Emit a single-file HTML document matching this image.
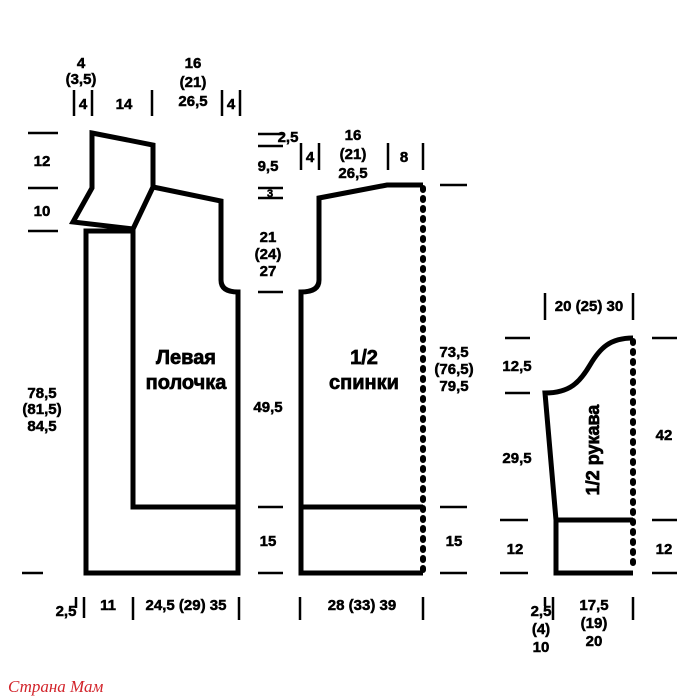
<!DOCTYPE html>
<html><head><meta charset="utf-8"><style>
html,body{margin:0;padding:0;background:#fff;}
svg{display:block;}
text{font-family:"Liberation Sans Narrow","Liberation Sans",sans-serif;font-weight:bold;font-size:15px;fill:#000;stroke:#000;stroke-width:0.5;text-anchor:middle;}
text.big{font-size:20px;stroke-width:0.7;}
</style></head><body>
<svg width="700" height="700" viewBox="0 0 700 700" xmlns="http://www.w3.org/2000/svg">
<g fill="none" stroke="#000" stroke-width="5" stroke-linejoin="miter">
<path d="M92,133 L153,145 L153,187 L133,229 L73,222 L92,188 Z"/>
<path d="M153,187 L221,201 L221,280 Q221,292 238,292 L238,573 L86,573 L86,231 L133,231 L133,507 L238,507"/>
<path d="M423,185 L387,185 L319,198 L319,280 Q319,292 301,292 L301,573 L423,573"/>
<path d="M301,507 L423,507"/>
<path d="M633,338 C610,338 600,348 590,365 C580,382 570,393 545,393 L556,520 L556,573 L633,573"/>
<path d="M556,520 L633,520"/>
</g>
<g stroke="#000" stroke-width="6" stroke-dasharray="2,8" stroke-linecap="round" fill="none">
<line x1="423" y1="188" x2="423" y2="571"/>
<line x1="633" y1="341" x2="633" y2="571"/>
</g>
<g stroke="#000" stroke-width="2.5">
<line x1="28" y1="133" x2="58" y2="133"/><line x1="28" y1="188" x2="58" y2="188"/><line x1="28" y1="231" x2="58" y2="231"/><line x1="22" y1="573" x2="43" y2="573"/>
<line x1="258" y1="134" x2="283" y2="134"/><line x1="258" y1="146" x2="283" y2="146"/><line x1="258" y1="188" x2="283" y2="188"/><line x1="258" y1="198" x2="283" y2="198"/><line x1="258" y1="292" x2="283" y2="292"/><line x1="258" y1="507" x2="283" y2="507"/><line x1="258" y1="573" x2="283" y2="573"/>
<line x1="440" y1="185" x2="467" y2="185"/><line x1="440" y1="507" x2="467" y2="507"/><line x1="440" y1="573" x2="467" y2="573"/>
<line x1="505" y1="338" x2="530" y2="338"/><line x1="505" y1="393" x2="530" y2="393"/><line x1="500" y1="520" x2="528" y2="520"/><line x1="500" y1="573" x2="528" y2="573"/>
<line x1="652" y1="338" x2="677" y2="338"/><line x1="652" y1="520" x2="677" y2="520"/><line x1="652" y1="573" x2="677" y2="573"/>
<line x1="74" y1="90" x2="74" y2="116"/><line x1="92" y1="90" x2="92" y2="116"/><line x1="152" y1="90" x2="152" y2="116"/><line x1="222" y1="90" x2="222" y2="116"/><line x1="240" y1="90" x2="240" y2="116"/>
<line x1="301" y1="143" x2="301" y2="170"/><line x1="319" y1="143" x2="319" y2="170"/><line x1="388" y1="143" x2="388" y2="170"/><line x1="423" y1="143" x2="423" y2="170"/>
<line x1="545" y1="293" x2="545" y2="320"/><line x1="633" y1="293" x2="633" y2="320"/>
<line x1="76" y1="597" x2="76" y2="608"/><line x1="84" y1="597" x2="84" y2="618"/><line x1="133" y1="597" x2="133" y2="620"/><line x1="239" y1="597" x2="239" y2="620"/>
<line x1="300" y1="597" x2="300" y2="620"/><line x1="423" y1="597" x2="423" y2="620"/>
<line x1="545" y1="597" x2="545" y2="606"/><line x1="553" y1="597" x2="553" y2="620"/><line x1="633" y1="597" x2="633" y2="620"/>
</g>
<text x="81" y="68">4</text><text x="81" y="84">(3,5)</text><text x="83" y="109">4</text>
<text x="124" y="109">14</text>
<text x="193" y="68">16</text><text x="193" y="87">(21)</text><text x="193" y="106">26,5</text>
<text x="231" y="109">4</text>
<text x="42" y="166">12</text><text x="42" y="216">10</text>
<text x="288" y="142">2,5</text><text x="268" y="171">9,5</text><text x="270" y="197" style="font-size:11px">3</text>
<text x="310" y="162">4</text>
<text x="353" y="140">16</text><text x="353" y="159">(21)</text><text x="353" y="178">26,5</text>
<text x="404" y="162">8</text>
<text x="268" y="242">21</text><text x="268" y="259">(24)</text><text x="268" y="276">27</text>
<text class="big" x="186" y="364">Левая</text><text class="big" x="186" y="389">полочка</text>
<text class="big" x="364" y="364">1/2</text><text class="big" x="364" y="389">спинки</text>
<text x="268" y="412">49,5</text>
<text x="454" y="357">73,5</text><text x="454" y="374">(76,5)</text><text x="454" y="391">79,5</text>
<text x="42" y="398">78,5</text><text x="42" y="414">(81,5)</text><text x="42" y="431">84,5</text>
<text x="268" y="546">15</text><text x="454" y="546">15</text>
<text x="589" y="311">20 (25) 30</text>
<text x="517" y="371">12,5</text><text x="517" y="463">29,5</text>
<text x="664" y="440">42</text>
<text class="big" transform="translate(599,450) rotate(-90)" style="font-size:18px">1/2 рукава</text>
<text x="515" y="554">12</text><text x="664" y="554">12</text>
<text x="66" y="616">2,5</text><text x="108" y="610">11</text><text x="186" y="610">24,5 (29) 35</text>
<text x="362" y="610">28 (33) 39</text>
<text x="541" y="616">2,5</text><text x="541" y="634">(4)</text><text x="541" y="652">10</text>
<text x="594" y="610">17,5</text><text x="594" y="628">(19)</text><text x="594" y="646">20</text>
<text x="8" y="692" style="text-anchor:start;font-family:'Liberation Serif',serif;font-style:italic;font-weight:normal;font-size:17px;fill:#d2232a;stroke:none;">Страна Мам</text>
</svg>
</body></html>
